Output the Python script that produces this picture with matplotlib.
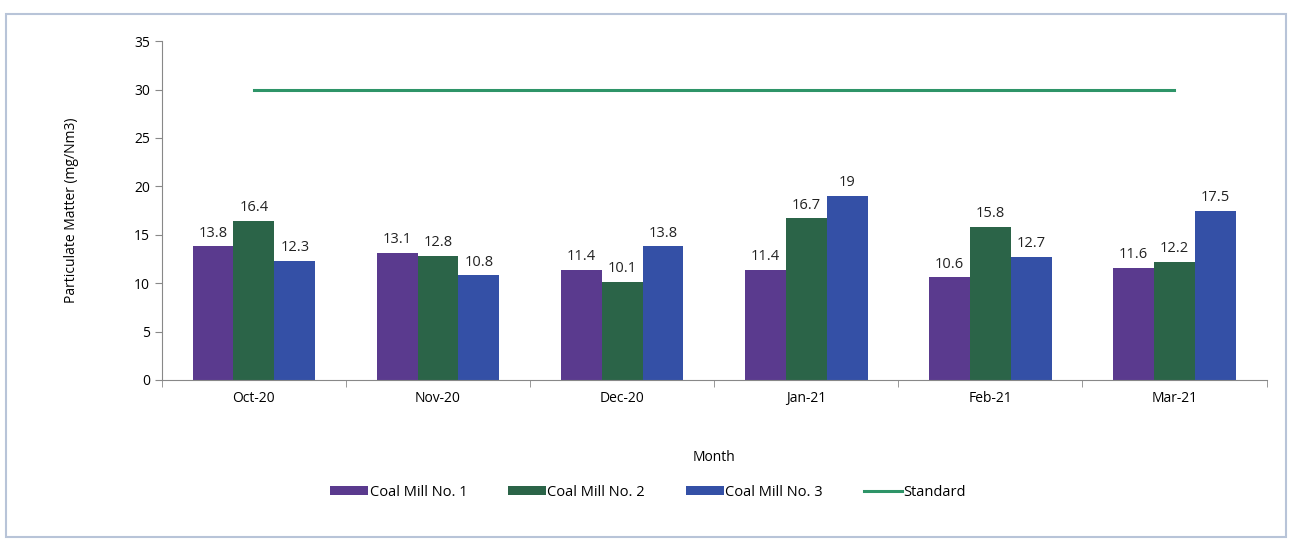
import matplotlib.pyplot as plt
import numpy as np
from matplotlib.patches import Rectangle

months = ["Oct-20", "Nov-20", "Dec-20", "Jan-21", "Feb-21", "Mar-21"]
mill1 = [13.8, 13.1, 11.4, 11.4, 10.6, 11.6]
mill2 = [16.4, 12.8, 10.1, 16.7, 15.8, 12.2]
mill3 = [12.3, 10.8, 13.8, 19, 12.7, 17.5]
standard = [30, 30, 30, 30, 30, 30]

labels = ["Coal Mill No. 1", "Coal Mill No. 2", "Coal Mill No. 3"]
colors = ["#5a3a8e", "#2b6448", "#3450a6"]

plt.rcParams["font.family"] = ["Open Sans", "DejaVu Sans"]

fig = plt.figure(figsize=(12.95, 5.42), dpi=100)
ax = fig.add_axes([0.125, 0.299, 0.853, 0.625])

x = np.arange(len(months))
w = 0.222
for i, (vals, lab, c) in enumerate(zip([mill1, mill2, mill3], labels, colors)):
    bars = ax.bar(x + (i - 1) * w, vals, w, color=c, label=lab)
    for b, v in zip(bars, vals):
        ax.text(b.get_x() + b.get_width() / 2, v + 0.6, f"{v:g}",
                ha="center", va="bottom", fontsize=10.5, color="#222222")

ax.plot(x, standard, color="#2e9468", lw=2.2, label="Standard")

ax.set_xlim(-0.5, 5.5)
ax.set_ylim(0, 35)
ax.set_yticks(range(0, 36, 5))
ax.set_xticks(x)
ax.set_xticklabels(months)
ax.set_xticks(np.arange(-0.5, 5.6, 1), minor=True)
ax.tick_params(axis="x", which="major", length=0, labelsize=10, pad=8)
ax.tick_params(axis="x", which="minor", length=5, color="#888888")
ax.tick_params(axis="y", length=5, color="#888888", labelsize=10)
ax.spines[["top", "right"]].set_visible(False)
ax.spines["left"].set_color("#888888")
ax.spines["bottom"].set_color("#888888")

ax.set_ylabel("Particulate Matter (mg/Nm3)", fontsize=10, labelpad=40)
ax.set_xlabel("Month", fontsize=10, labelpad=32)

handles, labs = ax.get_legend_handles_labels()
order = [1, 2, 3, 0]
ax.legend([handles[k] for k in order], [labs[k] for k in order],
          loc="upper center", bbox_to_anchor=(0.44, -0.27), ncol=4, frameon=False,
          fontsize=10.5, handlelength=2.6, handleheight=0.6, handletextpad=0.1,
          columnspacing=2.8)

fig.patches.append(Rectangle((0.005, 0.01), 0.988, 0.965, transform=fig.transFigure,
                             fill=False, edgecolor="#b8c4d8", lw=1.5))

fig.savefig("out.png", dpi=100)
